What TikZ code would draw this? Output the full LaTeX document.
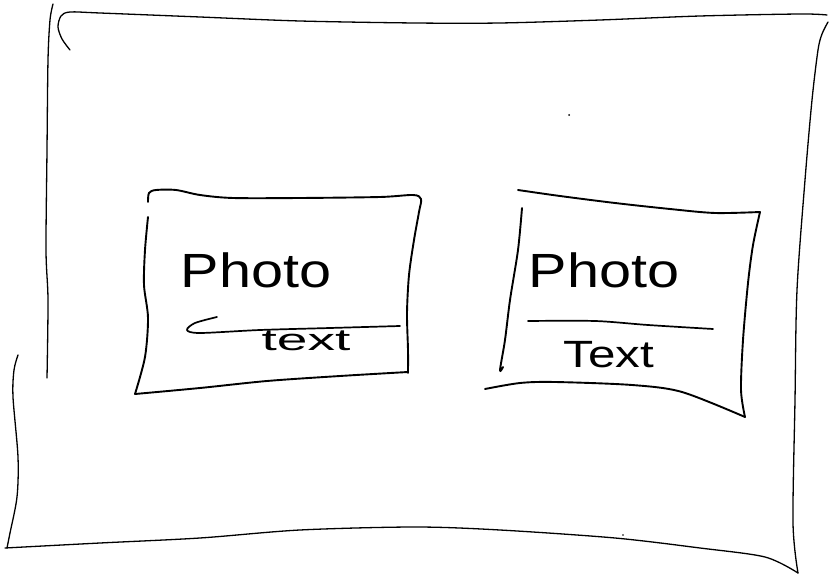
\documentclass[tikz,border=0pt]{standalone}
\usepackage{fontspec}
\usepackage{graphicx}
\setmainfont{Liberation Sans}
\tikzset{
  frame/.style={line width=1.3pt, line cap=round, line join=round},
  box/.style={line width=1.9pt, line cap=round, line join=round},
  rule/.style={line width=1.7pt, line cap=round},
  title/.style={anchor=base, inner sep=0pt, font=\fontsize{48}{50}\selectfont},
  caption/.style={anchor=base, inner sep=0pt, font=\fontsize{38}{40}\selectfont},
}
\begin{document}
\begin{tikzpicture}[x=1pt,y=-1pt]
\useasboundingbox (0,0) rectangle (830,577);
\fill[white] (0,0) rectangle (830,577);
% outer frame
\draw[frame] plot[smooth] coordinates {(70,50) (62,39) (58,27) (61,16) (70,12) (100,13) (200,17) (300,21) (415,23) (500,23) (600,20) (700,16) (800,14) (827,15)};
\draw[frame] plot[smooth] coordinates {(828,22) (822,34) (818,50) (812,100) (805,180) (797,290) (795,400) (793,523) (798,573)};
\draw[frame] plot[smooth] coordinates {(53,4) (50,20) (48,60) (47,150) (46,250) (48,300) (47,378)};
\draw[frame] plot[smooth] coordinates {(18,355) (14,370) (13,397) (18,457) (17,497) (10,533) (7,548)};
\draw[frame] plot[smooth] coordinates {(5,548) (100,543) (200,538) (300,530) (415,527) (500,530) (615,538) (700,548) (765,557) (798,573)};
% left photo box
\draw[box] plot[smooth] coordinates {(148,202) (149,193) (156,190) (176,190) (200,195) (233,198) (300,198) (380,197) (413,195) (421,199) (419,212) (414,240) (409,275) (407,313) (408,350) (408,373)};
\draw[box] plot[smooth] coordinates {(148,217) (145,250) (144,285) (148,318) (145,357) (135,394)};
\draw[box] plot[smooth] coordinates {(135,394) (200,388) (267,381) (340,376) (408,372)};
\draw[rule] plot[smooth] coordinates {(217,317) (195,323) (187,330) (200,333) (260,330) (330,328) (400,326)};
\node[title] (t1) at (256,288) {\scalebox{1.2}[1]{Photo}};
\node[caption] (c1) at (306,351) {\scalebox{1.45}[0.8]{text}};
% right photo box
\draw[box] plot[smooth] coordinates {(518,190) (560,196) (615,203) (670,209) (715,213) (760,212)};
\draw[box] plot[smooth] coordinates {(760,212) (753,245) (748,283) (743,340) (741,390) (745,417)};
\draw[box] plot[smooth] coordinates {(522,208) (518,250) (510,300) (505,340) (500,370) (503,367)};
\draw[box] plot[smooth] coordinates {(485,389) (520,383) (555,382) (632,385) (682,392) (745,417)};
\draw[rule] plot[smooth] coordinates {(528,321) (595,321) (648,325) (713,329)};
\node[title] (t2) at (604,288) {\scalebox{1.2}[1]{Photo}};
\node[caption] (c2) at (609,367) {\scalebox{1.3}[1]{Text}};
% stray dots
\fill (569,115) circle (1pt);
\fill (623,535) circle (0.8pt);
\end{tikzpicture}
\end{document}
